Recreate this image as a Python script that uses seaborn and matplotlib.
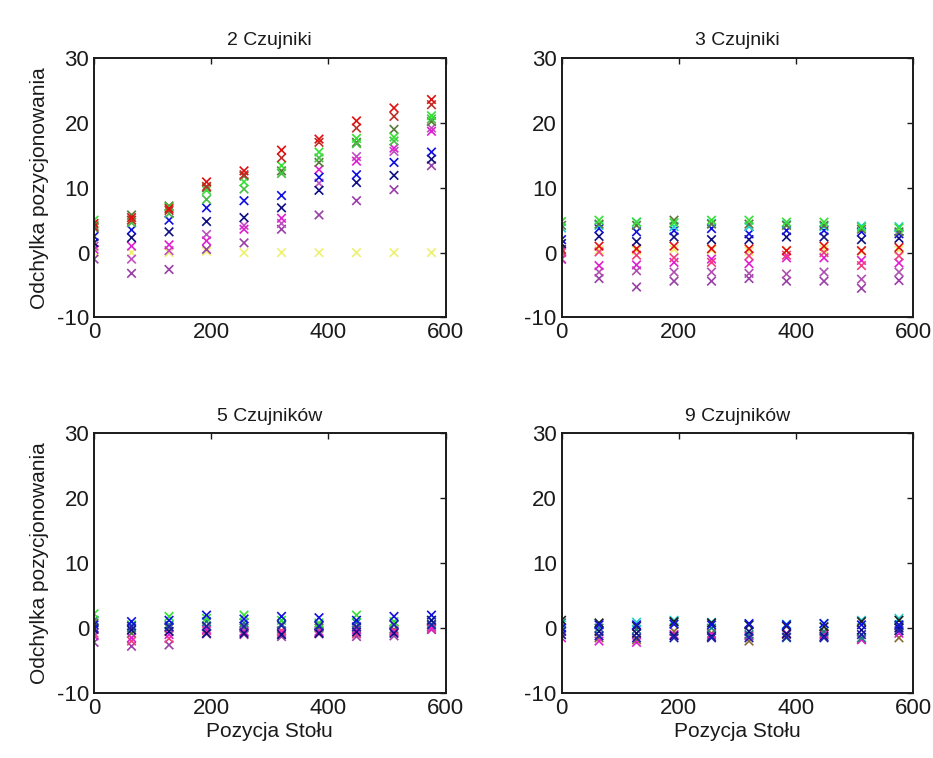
import numpy as np
import pandas as pd
import seaborn as sns
import matplotlib
matplotlib.use("Agg")
import matplotlib.pyplot as plt

# table positions (same for every panel)
positions = [0, 64, 128, 192, 256, 320, 384, 448, 512, 576]

# --- 2 Czujniki ---
p2_red      = [4.5, 5.4, 6.8, 10.9, 12.6, 15.8, 17.5, 20.3, 22.3, 23.6]
p2_red2     = [4.0, 5.0, 6.5, 10.2, 12.0, 14.6, 17.0, 19.2, 21.0, 22.8]
p2_green    = [5.0, 5.0, 7.0, 9.6, 10.9, 13.4, 15.5, 17.6, 17.8, 21.1]
p2_green2   = [4.2, 4.6, 6.0, 8.2, 9.8, 12.2, 14.6, 16.8, 17.2, 20.6]
p2_olive    = [3.8, 5.8, 7.2, 10.0, 11.8, 12.6, 13.9, 17.0, 19.0, 20.2]
p2_blue     = [2.5, 3.5, 5.0, 6.9, 8.0, 8.8, 11.6, 12.0, 13.9, 15.5]
p2_navy     = [1.5, 2.3, 3.2, 4.8, 5.4, 6.9, 9.6, 10.8, 11.9, 14.4]
p2_magenta  = [0.5, 1.0, 1.2, 1.8, 3.6, 5.3, 12.8, 14.1, 16.1, 18.7]
p2_magenta2 = [1.0, -1.0, 0.3, 2.8, 4.2, 4.5, 10.7, 14.8, 15.6, 19.2]
p2_purple   = [-1.0, -3.2, -2.6, 0.5, 1.5, 3.6, 5.8, 8.0, 9.7, 13.4]
p2_yellow   = [0.0, 0.0, 0.0, 0.2, 0.0, 0.0, 0.0, 0.0, 0.0, 0.0]

# --- 3 Czujniki ---
p3_green   = [4.8, 5.0, 4.7, 4.6, 5.0, 5.0, 4.7, 4.7, 3.9, 3.8]
p3_olive   = [4.2, 4.4, 4.2, 5.0, 4.4, 4.4, 4.2, 4.2, 3.6, 3.2]
p3_cyan    = [3.8, 4.2, 4.7, 4.0, 4.5, 4.0, 4.3, 4.0, 4.1, 4.0]
p3_blue    = [2.0, 3.7, 3.2, 3.4, 3.7, 2.9, 3.4, 3.4, 3.2, 2.9]
p3_navy    = [1.4, 2.5, 1.7, 2.4, 2.0, 2.0, 2.4, 2.4, 2.0, 2.2]
p3_red     = [0.5, 1.0, 0.6, 1.0, 0.6, 0.6, 0.3, 1.0, 0.3, 0.8]
p3_pink    = [0.0, 0.1, -0.4, -0.8, -1.5, -0.5, -0.4, 0.0, -2.0, -0.5]
p3_magenta = [-1.0, -2.0, -1.9, -1.5, -1.0, -1.7, -0.8, -0.8, -1.2, -1.6]
p3_purple  = [-1.0, -4.0, -5.3, -4.4, -4.4, -4.0, -4.4, -4.4, -5.5, -4.3]
p3_purple2 = [0.2, -3.0, -2.8, -3.0, -3.0, -3.2, -3.3, -3.0, -4.1, -3.0]
p3_yellow  = [0.4, 0.4, 0.3, 0.5, 0.4, 0.2, 0.3, 0.5, 0.2, 0.4]

# --- 5 Czujników ---
p5_green   = [2.2, 0.5, 1.8, 1.5, 2.0, 1.2, 0.8, 2.0, 1.0, 1.2]
p5_teal    = [1.2, 0.0, 0.5, 1.0, 0.8, 0.6, 0.5, 0.8, 0.6, 0.6]
p5_blue    = [0.5, 1.0, 1.2, 2.0, 1.4, 1.8, 1.6, 1.2, 1.8, 2.0]
p5_navy    = [-0.2, -0.3, -0.5, -0.8, -0.8, -1.0, -0.8, -0.6, -0.8, 1.2]
p5_blue2   = [0.0, 0.3, 0.2, 0.3, 0.3, 0.4, 0.3, 0.2, 0.5, 0.5]
p5_magenta = [-1.2, -1.5, -1.0, -0.2, -0.5, -0.8, -0.5, -0.3, -0.6, -0.2]
p5_pink    = [-0.8, -2.0, -1.6, -0.4, -0.6, -0.4, -0.7, -0.9, -0.4, 0.0]
p5_purple  = [-2.2, -2.8, -2.6, -0.9, -1.0, -1.3, -0.9, -1.3, -1.2, 0.2]
p5_olive   = [0.8, -0.8, 0.0, 0.2, 0.0, -0.5, 0.0, 0.0, -0.2, -0.2]

# --- 9 Czujników ---
p9_cyan    = [0.5, 0.7, 0.9, 1.2, 0.9, 0.5, 0.6, 0.7, 1.2, 1.5]
p9_blue    = [0.0, 0.5, 0.5, 0.6, 0.5, 0.7, 0.5, 0.7, 0.5, 0.5]
p9_navy    = [-1.0, -0.5, -0.8, -1.2, -1.3, -0.5, -0.9, -1.3, -0.3, 0.0]
p9_blue2   = [-0.5, -1.2, -1.5, -1.5, -1.5, -1.5, -1.4, -1.5, -1.0, -0.4]
p9_teal    = [0.8, 0.0, -0.2, 0.9, 0.0, -1.0, -1.5, -0.5, -1.5, 0.3]
p9_magenta = [-1.5, -2.0, -2.2, -1.0, -1.0, -1.2, -0.8, -1.0, -1.8, -0.8]
p9_brown   = [-0.5, -1.5, -1.8, -0.5, -0.8, -2.0, -1.0, -0.8, -1.7, -1.5]
p9_black   = [1.2, 0.8, 0.3, 1.0, 0.8, 0.5, 0.3, 0.2, 1.0, 1.2]

colors = {
    "red": "#e01010", "red2": "#c0302a", "green": "#33e033", "green2": "#44c044",
    "olive": "#5a7a3a", "blue": "#1010e0", "navy": "#101080", "blue2": "#2020b0",
    "magenta": "#e020d0", "magenta2": "#c050c0", "purple": "#9a40a8",
    "purple2": "#b050b0", "pink": "#f04080", "yellow": "#f0f070",
    "cyan": "#20d0d0", "teal": "#208080", "brown": "#8a6a30", "black": "#202020",
}

panels = [
    ("2 Czujniki", {"yellow": p2_yellow, "purple": p2_purple, "magenta2": p2_magenta2,
                    "magenta": p2_magenta, "navy": p2_navy, "blue": p2_blue,
                    "olive": p2_olive, "green2": p2_green2, "green": p2_green,
                    "red2": p2_red2, "red": p2_red}),
    ("3 Czujniki", {"yellow": p3_yellow, "purple": p3_purple, "purple2": p3_purple2,
                    "magenta": p3_magenta, "pink": p3_pink, "red": p3_red,
                    "navy": p3_navy, "blue": p3_blue, "cyan": p3_cyan,
                    "olive": p3_olive, "green": p3_green}),
    ("5 Czujników", {"olive": p5_olive, "purple": p5_purple, "pink": p5_pink,
                     "magenta": p5_magenta, "teal": p5_teal, "green": p5_green,
                     "navy": p5_navy, "blue2": p5_blue2, "blue": p5_blue}),
    ("9 Czujników", {"brown": p9_brown, "magenta": p9_magenta, "teal": p9_teal,
                     "cyan": p9_cyan, "black": p9_black, "navy": p9_navy,
                     "blue2": p9_blue2, "blue": p9_blue}),
]

sns.set_style("white")
plt.rcParams['font.family'] = ['Liberation Sans', 'DejaVu Sans']
plt.rcParams['axes.unicode_minus'] = False

fig, axes = plt.subplots(2, 2, figsize=(9.33, 7.58), dpi=100)
fig.subplots_adjust(left=0.1008, right=0.9786, top=0.9235, bottom=0.0858,
                    wspace=0.33, hspace=0.447)

for ax, (title, series) in zip(axes.flat, panels):
    rows = []
    for name, vals in series.items():
        for x, y in zip(positions, vals):
            rows.append((x, y, name))
    df = pd.DataFrame(rows, columns=["x", "y", "seria"])
    sns.scatterplot(data=df, x="x", y="y", hue="seria", palette=colors,
                    marker="x", s=38, linewidth=1.2, legend=False, ax=ax)
    ax.set_xlim(0, 600)
    ax.set_ylim(-10, 30)
    ax.set_xticks([0, 200, 400, 600])
    ax.set_yticks([-10, 0, 10, 20, 30])
    ax.tick_params(direction="in", length=4, top=True, right=True,
                   labelsize=16, colors="#1a1a1a", width=1)
    for sp in ax.spines.values():
        sp.set_color("#1a1a1a")
        sp.set_linewidth(1.4)
    ax.set_title(title, fontsize=14, color="#1a1a1a", pad=9)
    ax.set_xlabel("")
    ax.set_ylabel("")

for ax in axes[:, 0]:
    ax.set_ylabel("Odchylka pozycjonowania", fontsize=15, color="#1a1a1a", labelpad=6)
for ax in axes[1, :]:
    ax.set_xlabel("Pozycja Stołu", fontsize=15, color="#1a1a1a", labelpad=2)

plt.savefig("out.png", dpi=100)
